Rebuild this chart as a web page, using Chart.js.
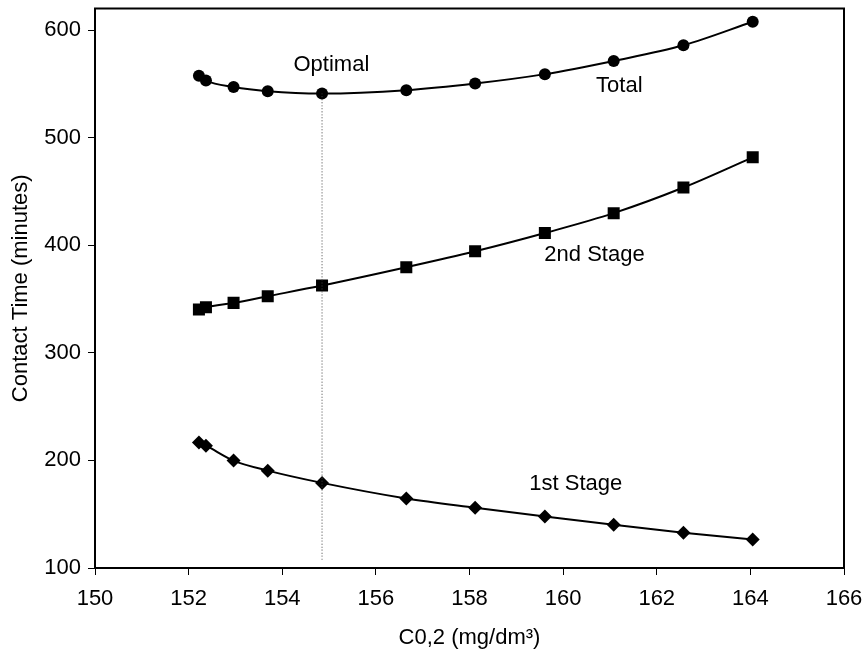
<!DOCTYPE html>
<html>
<head>
<meta charset="utf-8">
<script src="https://cdn.jsdelivr.net/npm/chart.js@4.4.0/dist/chart.umd.min.js"></script>
<style>
    body { margin: 0; background: #fff; }
    #contactChart { display: block; }
</style>
</head>
<body>
<canvas id="contactChart" width="866" height="653"></canvas>
<script>
// Concentration apres la 1ere etape (mg/dm3)
var concentration = [152.22, 152.37, 152.96, 153.69, 154.85, 156.65, 158.12, 159.61, 161.08, 162.57, 164.05];

// Temps de contact (minutes) par etape
var firstStage  = [216.7, 213.7, 199.8, 190.5, 179.1, 164.6, 156.0, 147.9, 140.2, 132.8, 126.6];
var secondStage = [340.3, 342.4, 346.4, 352.6, 362.5, 379.5, 394.3, 411.3, 429.8, 453.6, 481.7];
var totalTime   = [557.4, 553.0, 547.1, 543.2, 541.0, 544.1, 550.3, 559.0, 571.3, 585.8, 607.7];

// Point optimal (minimum du temps total)
var optimalX = 154.85;
var optimalLine = [541.0, 106];

// Ticks des axes
var xTicks = [150, 152, 154, 156, 158, 160, 162, 164, 166];
var yTicks = [100, 200, 300, 400, 500, 600];

// Etiquettes posees dans le graphe: [texte, x, y]
var curveLabels = [
    ["Optimal", 155.05, 567.5],
    ["Total", 161.2, 548],
    ["2nd Stage", 160.67, 390.5],
    ["1st Stage", 160.27, 178.5]
];

function toPoints(xs, ys) {
    var pts = [];
    for (var i = 0; i < xs.length; i++) {
        pts.push({x: xs[i], y: ys[i]});
    }
    return pts;
}

var fontFamily = "'Liberation Sans', Arial, sans-serif";
var fontSize = 22;

// Cadre complet autour de la zone de trace + textes des courbes
var framePlugin = {
    id: "frameAndLabels",
    afterDraw: function(chart) {
        var ctx = chart.ctx;
        var area = chart.chartArea;
        ctx.save();
        ctx.strokeStyle = "#000";
        ctx.lineWidth = 2;
        ctx.strokeRect(area.left, area.top, area.right - area.left, area.bottom - area.top);

        ctx.fillStyle = "#000";
        ctx.font = fontSize + "px " + fontFamily;
        ctx.textAlign = "center";
        ctx.textBaseline = "middle";
        for (var i = 0; i < curveLabels.length; i++) {
            var lb = curveLabels[i];
            ctx.fillText(lb[0], chart.scales.x.getPixelForValue(lb[1]), chart.scales.y.getPixelForValue(lb[2]));
        }
        ctx.restore();
    }
};

var seriesStyle = {
    borderColor: "#000",
    backgroundColor: "#000",
    borderWidth: 2,
    pointBorderWidth: 0,
    pointBackgroundColor: "#000",
    cubicInterpolationMode: "monotone",
    fill: false
};

var ctx = document.getElementById("contactChart");

var myChart = new Chart(ctx, {
    type: "line",
    data: {
        datasets: [
            Object.assign({}, seriesStyle, {
                label: "Optimal",
                data: toPoints([optimalX, optimalX], optimalLine),
                borderColor: "#444",
                borderWidth: 1,
                borderDash: [1, 2],
                pointRadius: 0
            }),
            Object.assign({}, seriesStyle, {
                label: "Total",
                data: toPoints(concentration, totalTime),
                pointStyle: "circle",
                pointRadius: 6
            }),
            Object.assign({}, seriesStyle, {
                label: "2nd Stage",
                data: toPoints(concentration, secondStage),
                pointStyle: "rect",
                pointRadius: 8.5
            }),
            Object.assign({}, seriesStyle, {
                label: "1st Stage",
                data: toPoints(concentration, firstStage),
                pointStyle: "rectRot",
                pointRadius: 7
            })
        ]
    },
    options: {
        responsive: false,
        animation: false,
        layout: {
            padding: {top: 6, right: 22, left: 0, bottom: 0}
        },
        plugins: {
            legend: {display: false},
            tooltip: {enabled: false}
        },
        scales: {
            x: {
                type: "linear",
                min: 150,
                max: 166,
                afterFit: function(scale) {
                    scale.height = 85;
                    scale.paddingLeft = 0;
                    scale.paddingRight = 0;
                },
                afterBuildTicks: function(scale) {
                    scale.ticks = xTicks.map(function(v) { return {value: v}; });
                },
                grid: {
                    drawOnChartArea: false,
                    drawTicks: true,
                    tickLength: 7,
                    tickWidth: 1,
                    tickColor: "#000"
                },
                border: {display: true, color: "#000", width: 2},
                ticks: {
                    color: "#000",
                    padding: 11,
                    maxRotation: 0,
                    font: {family: fontFamily, size: fontSize}
                },
                title: {
                    display: true,
                    text: "C0,2 (mg/dm³)",
                    color: "#000",
                    padding: {top: 0, bottom: 2},
                    font: {family: fontFamily, size: fontSize}
                }
            },
            y: {
                type: "linear",
                min: 100,
                max: 620,
                afterFit: function(scale) {
                    scale.width = 95;
                    scale.paddingTop = 0;
                    scale.paddingBottom = 0;
                },
                afterBuildTicks: function(scale) {
                    scale.ticks = yTicks.map(function(v) { return {value: v}; });
                },
                grid: {
                    drawOnChartArea: false,
                    drawTicks: true,
                    tickLength: 7,
                    tickWidth: 1,
                    tickColor: "#000"
                },
                border: {display: true, color: "#000", width: 2},
                ticks: {
                    color: "#000",
                    padding: 7,
                    font: {family: fontFamily, size: fontSize}
                },
                title: {
                    display: true,
                    text: "Contact Time (minutes)",
                    color: "#000",
                    padding: {top: 8, bottom: 0},
                    font: {family: fontFamily, size: fontSize}
                }
            }
        }
    },
    plugins: [framePlugin]
});
</script>
</body>
</html>
